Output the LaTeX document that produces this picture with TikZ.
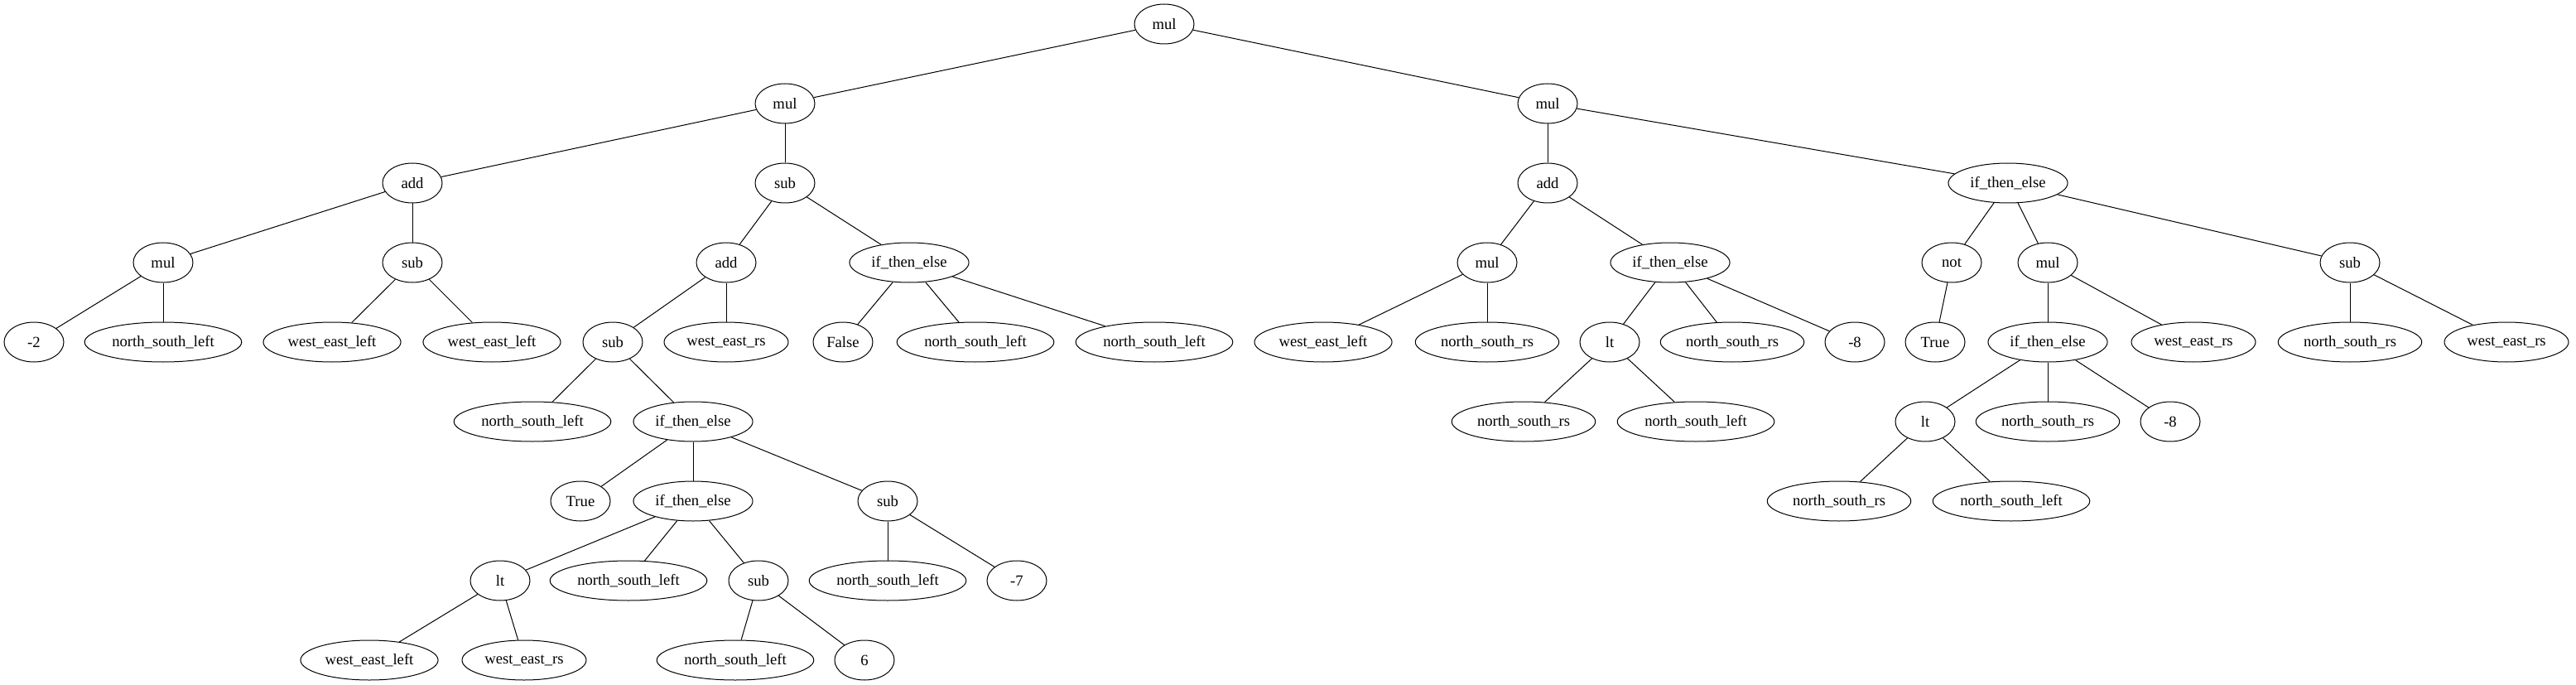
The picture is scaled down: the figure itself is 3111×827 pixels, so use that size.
\documentclass[tikz,border=0pt]{standalone}
\usepackage{fontspec}
\setmainfont{Liberation Serif}
\usepackage{tikz}
\usetikzlibrary{shapes.geometric}
\tikzstyle{term} = [ellipse, draw=black, line width=0.75pt, minimum width=54pt, minimum height=36pt, inner xsep=4pt, inner ysep=0pt, text centered, font=\fontsize{14}{16}\selectfont]
\tikzstyle{branch} = [line width=0.75pt]

\begin{document}
\begin{tikzpicture}[x=0.75pt, y=-0.75pt]
        \useasboundingbox (0,0) rectangle (3111,827);

        % operators
        \node (mul1) [term] at (1406,29) {mul};
        \node (mul2) [term] at (948,125) {mul};
        \node (mul3) [term] at (1869,125) {mul};
        \node (add1) [term] at (498,221) {add};
        \node (sub1) [term] at (948,221) {sub};
        \node (add2) [term] at (1869,221) {add};
        \node (ite1) [term] at (2425,221) {if\_then\_else};
        \node (mul4) [term] at (197,317) {mul};
        \node (sub2) [term] at (498,317) {sub};
        \node (add3) [term] at (877,317) {add};
        \node (ite2) [term] at (1098,317) {if\_then\_else};
        \node (mul5) [term] at (1796,317) {mul};
        \node (ite3) [term] at (2017,317) {if\_then\_else};
        \node (not1) [term] at (2357,317) {not};
        \node (mul6) [term] at (2473,317) {mul};
        \node (sub3) [term] at (2838,317) {sub};
        \node (sub4) [term] at (740,413) {sub};
        \node (lt1) [term] at (1944,413) {lt};
        \node (ite4) [term] at (2473,413) {if\_then\_else};
        \node (ite5) [term] at (837,509) {if\_then\_else};
        \node (lt2) [term] at (2325,509) {lt};
        \node (ite6) [term] at (837,605) {if\_then\_else};
        \node (sub5) [term] at (1072,605) {sub};
        \node (lt3) [term] at (604,701) {lt};
        \node (sub6) [term] at (916,701) {sub};

        % leaves
        \node (neg2) [term] at (41,413) {-2};
        \node (nsl1) [term] at (197,413) {north\_south\_left};
        \node (wel1) [term] at (401,413) {west\_east\_left};
        \node (wel2) [term] at (594,413) {west\_east\_left};
        \node (wers1) [term] at (877,413) {west\_east\_rs};
        \node (false1) [term] at (1018,413) {False};
        \node (nsl2) [term] at (1178,413) {north\_south\_left};
        \node (nsl3) [term] at (1394,413) {north\_south\_left};
        \node (wel3) [term] at (1598,413) {west\_east\_left};
        \node (nsrs1) [term] at (1796,413) {north\_south\_rs};
        \node (nsrs2) [term] at (2092,413) {north\_south\_rs};
        \node (neg8a) [term] at (2240,413) {-8};
        \node (true1) [term] at (2337,413) {True};
        \node (wers2) [term] at (2649,413) {west\_east\_rs};
        \node (nsrs3) [term] at (2838,413) {north\_south\_rs};
        \node (wers3) [term] at (3027,413) {west\_east\_rs};
        \node (nsl4) [term] at (643,509) {north\_south\_left};
        \node (nsrs4) [term] at (1840,509) {north\_south\_rs};
        \node (nsl5) [term] at (2048,509) {north\_south\_left};
        \node (nsrs5) [term] at (2473,509) {north\_south\_rs};
        \node (neg8b) [term] at (2621,509) {-8};
        \node (true2) [term] at (701,605) {True};
        \node (nsrs6) [term] at (2221,605) {north\_south\_rs};
        \node (nsl6) [term] at (2429,605) {north\_south\_left};
        \node (nsl7) [term] at (759,701) {north\_south\_left};
        \node (nsl8) [term] at (1072,701) {north\_south\_left};
        \node (neg7) [term] at (1228,701) {-7};
        \node (wel4) [term] at (446,797) {west\_east\_left};
        \node (wers4) [term] at (633,797) {west\_east\_rs};
        \node (nsl9) [term] at (888,797) {north\_south\_left};
        \node (six) [term] at (1044,797) {6};

        % left subtree
        \draw [branch] (mul1) -- (mul2);
        \draw [branch] (mul1) -- (mul3);
        \draw [branch] (mul2) -- (add1);
        \draw [branch] (mul2) -- (sub1);
        \draw [branch] (add1) -- (mul4);
        \draw [branch] (add1) -- (sub2);
        \draw [branch] (mul4) -- (neg2);
        \draw [branch] (mul4) -- (nsl1);
        \draw [branch] (sub2) -- (wel1);
        \draw [branch] (sub2) -- (wel2);
        \draw [branch] (sub1) -- (add3);
        \draw [branch] (sub1) -- (ite2);
        \draw [branch] (add3) -- (sub4);
        \draw [branch] (add3) -- (wers1);
        \draw [branch] (sub4) -- (nsl4);
        \draw [branch] (sub4) -- (ite5);
        \draw [branch] (ite5) -- (true2);
        \draw [branch] (ite5) -- (ite6);
        \draw [branch] (ite5) -- (sub5);
        \draw [branch] (ite6) -- (lt3);
        \draw [branch] (ite6) -- (nsl7);
        \draw [branch] (ite6) -- (sub6);
        \draw [branch] (lt3) -- (wel4);
        \draw [branch] (lt3) -- (wers4);
        \draw [branch] (sub6) -- (nsl9);
        \draw [branch] (sub6) -- (six);
        \draw [branch] (sub5) -- (nsl8);
        \draw [branch] (sub5) -- (neg7);
        \draw [branch] (ite2) -- (false1);
        \draw [branch] (ite2) -- (nsl2);
        \draw [branch] (ite2) -- (nsl3);

        % right subtree
        \draw [branch] (mul3) -- (add2);
        \draw [branch] (mul3) -- (ite1);
        \draw [branch] (add2) -- (mul5);
        \draw [branch] (add2) -- (ite3);
        \draw [branch] (mul5) -- (wel3);
        \draw [branch] (mul5) -- (nsrs1);
        \draw [branch] (ite3) -- (lt1);
        \draw [branch] (ite3) -- (nsrs2);
        \draw [branch] (ite3) -- (neg8a);
        \draw [branch] (lt1) -- (nsrs4);
        \draw [branch] (lt1) -- (nsl5);
        \draw [branch] (ite1) -- (not1);
        \draw [branch] (ite1) -- (mul6);
        \draw [branch] (ite1) -- (sub3);
        \draw [branch] (not1) -- (true1);
        \draw [branch] (mul6) -- (ite4);
        \draw [branch] (mul6) -- (wers2);
        \draw [branch] (ite4) -- (lt2);
        \draw [branch] (ite4) -- (nsrs5);
        \draw [branch] (ite4) -- (neg8b);
        \draw [branch] (lt2) -- (nsrs6);
        \draw [branch] (lt2) -- (nsl6);
        \draw [branch] (sub3) -- (nsrs3);
        \draw [branch] (sub3) -- (wers3);

    \end{tikzpicture}
\end{document}
